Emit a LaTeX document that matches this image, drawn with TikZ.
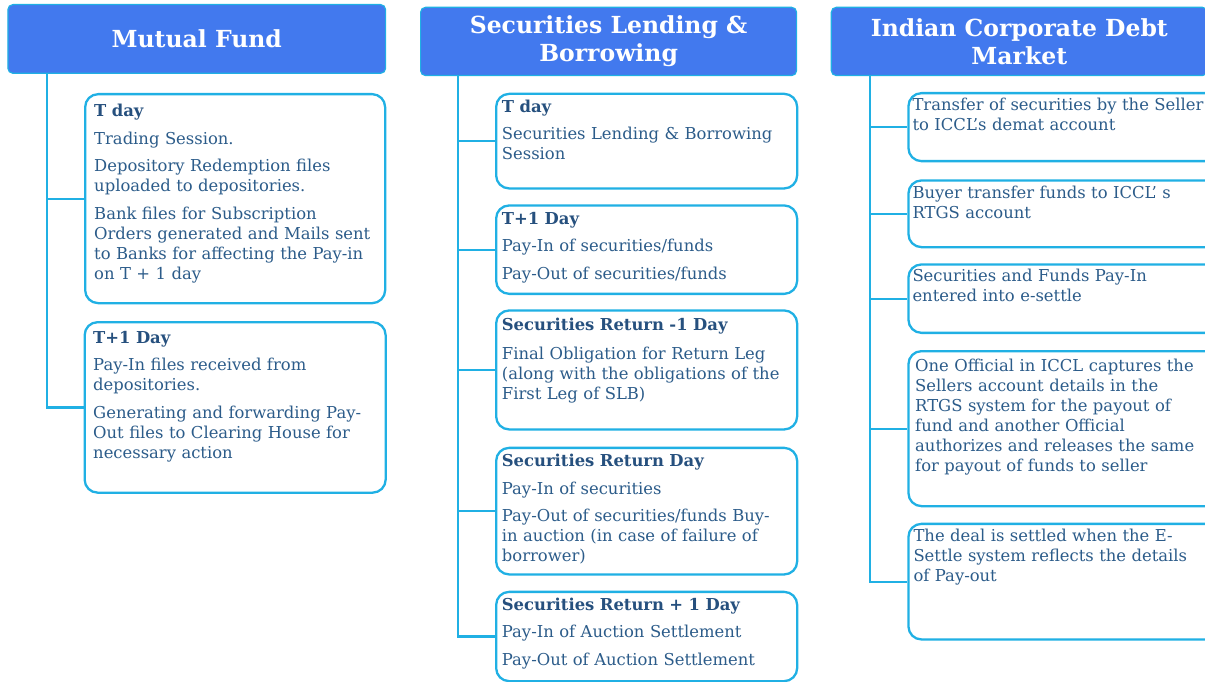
\documentclass[tikz,border=0pt]{standalone}
\usepackage{fontspec}
\setmainfont{DejaVu Serif}
\definecolor{hdrfill}{RGB}{66,121,238}
\definecolor{cyanline}{RGB}{32,176,228}
\definecolor{txtcol}{RGB}{44,92,138}
\definecolor{headcol}{RGB}{38,80,126}
\begin{document}
\begin{tikzpicture}[x=1pt,y=-1pt,
  hdr/.style={draw=cyanline, line width=1.2pt, fill=hdrfill, rounded corners=5pt, text=white,
    font=\bfseries\fontsize{23.5}{27.7}\selectfont, align=center, inner sep=0pt, anchor=north west},
  box/.style={draw=cyanline, line width=2.3pt, fill=white, rounded corners=13pt, inner sep=0pt, anchor=north west},
  conn/.style={draw=cyanline, line width=2.3pt},
  txt/.style={anchor=base west, inner sep=0pt, text=txtcol, text width=320pt, align=left,
    font=\fontsize{16.4}{20}\selectfont}]
\useasboundingbox (0,0) rectangle (1205,682);
\clip (0,0) rectangle (1205,682);
\newcommand\hdg[1]{\textbf{\color{headcol}#1}}
% ---------- headers
\node[hdr, minimum width=377.7pt, minimum height=68.7pt] (h1) at (7.3,4) {Mutual Fund};
\node[hdr, minimum width=376pt, minimum height=68.3pt] (h2) at (420,6.7) {Securities Lending \&\\Borrowing};
\node[hdr, minimum width=376pt, minimum height=68.3pt] (h3) at (830.7,6.7) {Indian Corporate Debt\\Market};
\coordinate (v1) at (46.7,72.7);
\coordinate (v2) at (458.3,75);
\coordinate (v3) at (870,75);
% ---------- column 1
\node[box, minimum width=300pt, minimum height=209pt] (m1) at (84,93) {};
\node[box, minimum width=301pt, minimum height=170.5pt] (m2) at (83.5,321) {};
\draw[conn] (v1) |- (m1.west);
\draw[conn] (v1) |- (m2.west);
\node[txt] (m1t) at (94,116.7) {\hdg{T day}\\[7.5pt]
Trading Session.\\[7.5pt]
Depository Redemption files\\uploaded to depositories.\\[7.5pt]
Bank files for Subscription\\Orders generated and Mails sent\\to Banks for affecting the Pay-in\\on T + 1 day};
\node[txt] (m2t) at (93,343.3) {\hdg{T+1 Day}\\[7.5pt]
Pay-In files received from\\depositories.\\[7.5pt]
Generating and forwarding Pay-\\Out files to Clearing House for\\necessary action};
% ---------- column 2
\node[box, minimum width=301pt, minimum height=94.6pt] (s1) at (495,92.7) {};
\node[box, minimum width=301pt, minimum height=88.4pt] (s2) at (495,204.3) {};
\node[box, minimum width=301pt, minimum height=119pt] (s3) at (495,309.3) {};
\node[box, minimum width=301pt, minimum height=126.6pt] (s4) at (495,446.7) {};
\node[box, minimum width=301pt, minimum height=89.3pt] (s5) at (495,590.7) {};
\foreach \b in {s1,s2,s3,s4,s5} \draw[conn] (v2) |- (\b.west);
\node[txt] (s1t) at (501.7,112.7) {\hdg{T day}\\[6.6pt]
Securities Lending \& Borrowing\\Session};
\node[txt] (s2t) at (501.7,224) {\hdg{T+1 Day}\\[7.6pt]
Pay-In of securities/funds\\[7.6pt]
Pay-Out of securities/funds};
\node[txt] (s3t) at (501.7,330.7) {\hdg{Securities Return -1 Day}\\[8.4pt]
Final Obligation for Return Leg\\(along with the obligations of the\\First Leg of SLB)};
\node[txt] (s4t) at (501.7,466.7) {\hdg{Securities Return Day}\\[7.4pt]
Pay-In of securities\\[7.6pt]
Pay-Out of securities/funds Buy-\\in auction (in case of failure of\\borrower)};
\node[txt] (s5t) at (501.7,610) {\hdg{Securities Return + 1 Day}\\[7.4pt]
Pay-In of Auction Settlement\\[7.6pt]
Pay-Out of Auction Settlement};
% ---------- column 3
\node[box, minimum width=320pt, minimum height=68pt] (d1) at (907.3,92) {};
\node[box, minimum width=320pt, minimum height=66.7pt] (d2) at (907.3,179.3) {};
\node[box, minimum width=320pt, minimum height=68.4pt] (d3) at (907.3,263.3) {};
\node[box, minimum width=320pt, minimum height=155pt] (d4) at (907.3,350) {};
\node[box, minimum width=320pt, minimum height=115.6pt] (d5) at (907.3,522.7) {};
\foreach \b in {d1,d2,d3,d4,d5} \draw[conn] (v3) |- (\b.west);
\node[txt] (d1t) at (912.3,111) {Transfer of securities by the Seller\\to ICCL’s demat account};
\node[txt] (d2t) at (912.3,198.3) {Buyer transfer funds to ICCL’ s\\RTGS account};
\node[txt] (d3t) at (912.3,281.7) {Securities and Funds Pay-In\\entered into e-settle};
\node[txt] (d4t) at (915,371.7) {One Official in ICCL captures the\\Sellers account details in the\\RTGS system for the payout of\\fund and another Official\\authorizes and releases the same\\for payout of funds to seller};
\node[txt] (d5t) at (913.3,541.7) {The deal is settled when the E-\\Settle system reflects the details\\of Pay-out};
\end{tikzpicture}
\end{document}
